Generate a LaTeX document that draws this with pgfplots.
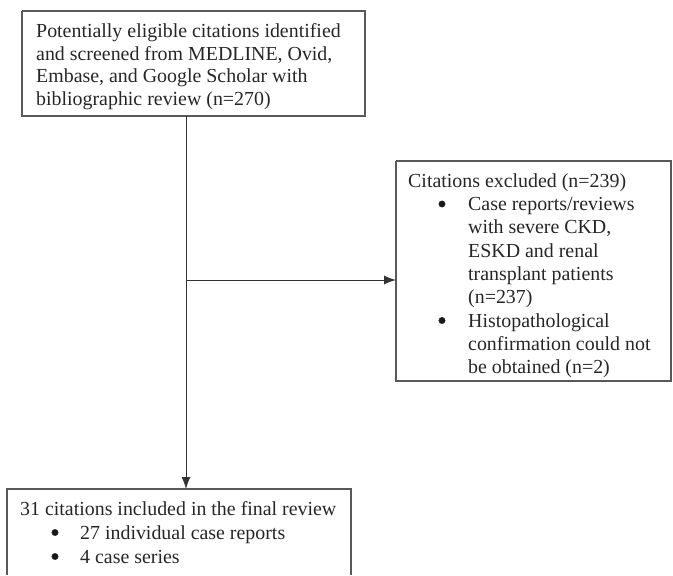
\documentclass[border=0pt]{standalone}
\usepackage{pgfplots}
\pgfplotsset{compat=1.18}
\usepackage{fontspec}
\setmainfont{Liberation Serif}
\usetikzlibrary{arrows.meta}
\begin{document}
\begin{tikzpicture}
\begin{axis}[
  width=673pt, height=575pt, scale only axis,
  xmin=0, xmax=673, ymin=0, ymax=575, y dir=reverse,
  hide axis, clip=false,
]
% invisible frame to fix the picture size
\addplot[draw=none] coordinates {(0,0) (673,575)};
% box 1
\addplot[draw=black!65, line width=1.4pt] coordinates {(22,11) (365,11) (365,116) (22,116) (22,11)};
% box 2
\addplot[draw=black!65, line width=1.4pt] coordinates {(396,161) (671,161) (671,381) (396,381) (396,161)};
% box 3 (cut off at the bottom)
\addplot[draw=black!65, line width=1.4pt] coordinates {(7,575) (7,489) (351,489) (351,575)};
% connectors
\addplot[draw=black!80, line width=1pt, -{Latex[length=12pt,width=9pt]}] coordinates {(186,116) (186,489)};
\addplot[draw=black!80, line width=1pt, -{Latex[length=12pt,width=9pt]}] coordinates {(186,280) (396,280)};
% bullets
\addplot[only marks, mark=*, mark size=3.2pt, mark options={fill=black!90, draw=black!90}] coordinates {(442,204) (442,320.5) (55,532.5) (55,556.5)};
% texts
\begin{scope}[every node/.style={anchor=base west, inner sep=0pt, font=\fontsize{19.9}{24}\selectfont, text=black!85}]
\node at (axis cs:36,37) {Potentially eligible citations identified};
\node at (axis cs:36,60) {and screened from MEDLINE, Ovid,};
\node at (axis cs:36,82) {Embase, and Google Scholar with};
\node at (axis cs:36,105) {bibliographic review (n=270)};

\node at (axis cs:408,187) {Citations excluded (n=239)};
\node at (axis cs:468,210) {Case reports/reviews};
\node at (axis cs:468,233.5) {with severe CKD,};
\node at (axis cs:468,257) {ESKD and renal};
\node at (axis cs:468,280) {transplant patients};
\node at (axis cs:468,303.5) {(n=237)};
\node at (axis cs:468,327) {Histopathological};
\node at (axis cs:468,350) {confirmation could not};
\node at (axis cs:468,373) {be obtained (n=2)};

\node at (axis cs:20,515) {31 citations included in the final review};
\node at (axis cs:80,539) {27 individual case reports};
\node at (axis cs:80,563) {4 case series};
\end{scope}
\end{axis}
\end{tikzpicture}
\end{document}
